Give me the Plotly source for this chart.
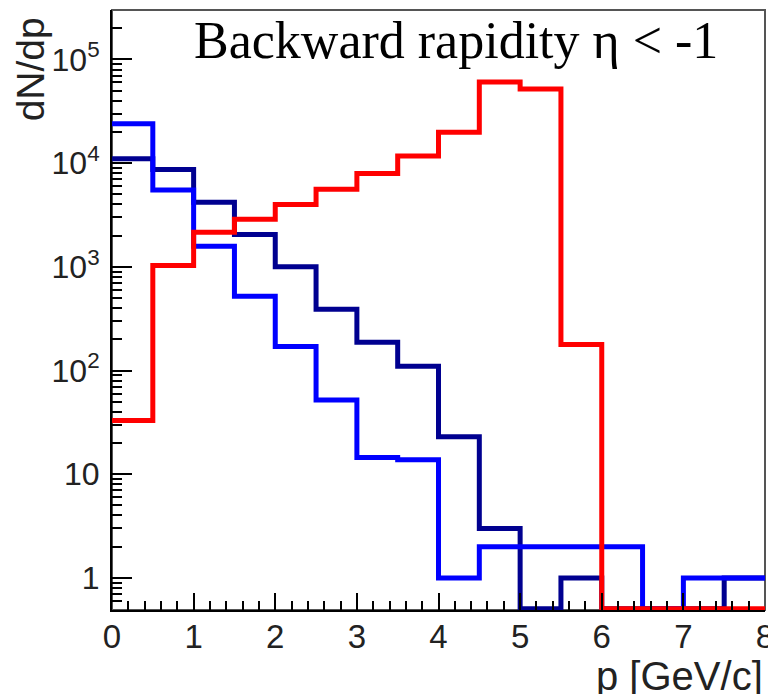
import plotly.graph_objects as go
import math

# bin edges (p in GeV/c), 0.5 wide
edges = [0.0, 0.5, 1.0, 1.5, 2.0, 2.5, 3.0, 3.5, 4.0, 4.5, 5.0, 5.5, 6.0, 6.5, 7.0, 7.5, 8.0]

red_vals = [33, 1030, 2150, 2880, 4000, 5600, 7950, 11700, 19900, 60500, 52000, 178, 0, 0, 0, 0]
navy_vals = [11000, 8700, 4200, 2050, 1000, 390, 187, 110, 23, 3, 0, 1, 0, 0, 0, 1]
blue_vals = [24000, 5500, 1580, 520, 170, 52, 14.5, 13.8, 1, 2, 2, 2, 2, 0, 1, 1]

title_text = "Backward rapidity η < -1"
x_title = "p [GeV/c]"
y_title = "dN/dp"
y_tickvals = [1, 10, 100, 1000, 10000, 100000]
y_ticktext = ["1", "10", "10<sup>2</sup>", "10<sup>3</sup>", "10<sup>4</sup>", "10<sup>5</sup>"]
x_tickvals = [0, 1, 2, 3, 4, 5, 6, 7, 8]

y_lo = 0.49
y_hi = 3.0e5
floor = 0.505  # empty bins drawn on the frame bottom like ROOT


def step(vals):
    ys = [v if v > 0 else floor for v in vals]
    return edges, ys + [ys[-1]]


fig = go.Figure()
for vals, col in [(navy_vals, "#000090"), (blue_vals, "#0000ff"), (red_vals, "#ff0000")]:
    xs, ys = step(vals)
    fig.add_trace(go.Scatter(x=xs, y=ys, mode="lines", line=dict(color=col, width=5, shape="hv"),
                             showlegend=False, hoverinfo="skip"))

fig.update_layout(
    width=768, height=686,
    margin=dict(l=104, r=8, t=2, b=84),
    paper_bgcolor="white", plot_bgcolor="white",
    font=dict(family="Liberation Sans, Arial, sans-serif", color="#222"),
    xaxis=dict(range=[0, 8], showgrid=False, zeroline=False,
               showline=True, linecolor="black", linewidth=2,
               tickmode="array", tickvals=x_tickvals,
               ticks="inside", ticklen=17, tickwidth=2, tickcolor="black",
               tickfont=dict(size=33, color="#222"), ticklabelstandoff=-4,
               ticklabeloverflow="allow",
               minor=dict(ticks="inside", ticklen=9, tickwidth=2, tickcolor="black",
                          dtick=0.2, tick0=0, showgrid=False)),
    yaxis=dict(type="log", range=[math.log10(y_lo), math.log10(y_hi)],
               showgrid=False, zeroline=False,
               showline=True, linecolor="black", linewidth=2,
               tickmode="array", tickvals=y_tickvals, ticktext=y_ticktext,
               ticks="inside", ticklen=20, tickwidth=2, tickcolor="black",
               tickfont=dict(size=32, color="#222"), ticklabelstandoff=4,
               minor=dict(ticks="inside", ticklen=10, tickwidth=2, tickcolor="black",
                          dtick="D1", showgrid=False)),
    shapes=[dict(type="rect", xref="paper", yref="paper", x0=0, x1=1, y0=0, y1=1,
                 line=dict(color="#555", width=2), layer="below")],
    annotations=[
        dict(text=title_text, xref="paper", yref="paper", x=(192 - 112) / 656, y=(610 - 41) / 600,
             xanchor="left", yanchor="middle", showarrow=False,
             font=dict(family="Liberation Serif, Times New Roman, serif", size=52, color="black")),
        dict(text=y_title, xref="paper", yref="paper", x=(31 - 112) / 656, y=(610 - 15) / 600,
             xanchor="center", yanchor="top", showarrow=False, textangle=-90,
             font=dict(family="Liberation Sans, Arial, sans-serif", size=39, color="#222")),
        dict(text=x_title, xref="paper", yref="paper", x=1.0, y=(610 - 676) / 600,
             xanchor="right", yanchor="middle", showarrow=False,
             font=dict(family="Liberation Sans, Arial, sans-serif", size=40, color="#222")),
    ],
)

fig.write_html("out.html")
